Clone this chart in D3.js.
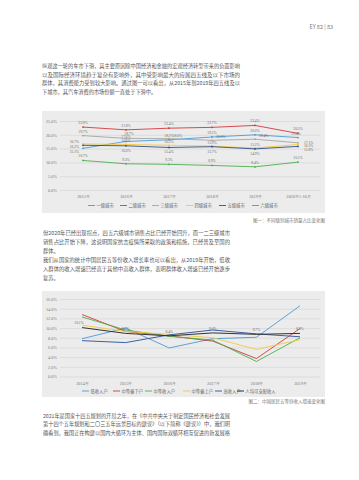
<!DOCTYPE html>
<html><head><meta charset="utf-8">
<script src="https://cdn.jsdelivr.net/npm/d3@7/dist/d3.min.js"></script>
<style>html,body{margin:0;padding:0;background:#fff;}svg{display:block;font-family:"Noto Sans CJK SC","Noto Sans",sans-serif;}</style>
</head><body>
<svg id="c" width="359" height="480"></svg>
<script>
// ---------- data ----------
const cityYears = ["2015年","2016年","2017年","2018年","2019年","2020年1-10月"];
const cityNames = ["一级城市","二级城市","三级城市","四级城市","五级城市","六级城市"];
const tier1 = [15.1, 17.6, 18.2, 19.2, 20.0, 19.0];
const tier2 = [22.8, 21.8, 22.4, 22.7, 23.4, 20.5];
const tier3 = [19.7, 18.7, 18.6, 18.0, 18.4, 17.1];
const tier4 = [16.7, 16.5, 16.2, 15.9, 15.2, 16.5];
const tier5 = [16.2, 16.0, 15.4, 15.7, 14.9, 15.8];
const tier6 = [10.7, 9.5, 9.3, 8.9, 8.4, 10.1];
const cityTicks = [0, 5, 10, 15, 20, 25];

const incYears = ["2014年","2015年","2016年","2017年","2018年","2019年"];
const incNames = ["低收入户","中等偏下户","中等收入户","中等偏上户","高收入户","人均可支配收入"];
const incLow = [7.8, 10.0, 5.9, 7.8, 8.1, 14.6];
const incLowMid = [12.8, 9.3, 8.4, 7.3, 3.7, 9.9];
const incMid = [12.3, 9.6, 8.3, 7.5, 3.1, 8.0];
const incUpMid = [10.6, 9.3, 8.7, 8.0, 5.6, 7.6];
const incHigh = [7.4, 7.0, 8.6, 9.6, 8.8, 8.2];
const incAvg = [10.1, 8.9, 8.4, 9.0, 8.7, 8.9];
const incTicks = [0, 2, 4, 6, 8, 10, 12, 14, 16];

const para1 = [
 "纵观这一轮的车市下滑，其主要原因除中国经济和金融的宏观经济转型带来的负面影响",
 "以及国际经济环境趋于复杂有影响外，其中受影响最大的应属四五线及以下市场的",
 "群体，其消费能力受到较大影响。通过图一可以看出，从2015年到2019年四五线及以",
 "下城市，其汽车消费的市场份额一直处于下滑中。"];
const para2 = [
 "但2020年已经出现拐点，四五六级城市销售占比已经开始回升，而一二三级城市",
 "销售占比开始下降，这说明国家抗击疫情所采取的政策和措施，已经普及至国的",
 "群体。",
 "我们从国家的统计中国居民五等份收入增长率也可以看出，从2019年开始，低收",
 "入群体的收入增速已经高于其他中高收入群体，表明群体收入增速已经开始逐步",
 "复苏。"];
const para3 = [
 "2021年是国家十四五规划的开局之年，在《中共中央关于制定国民经济和社会发展",
 "第十四个五年规划和二〇三五年远景目标的建议》（以下简称《建议》）中，我们明",
 "确看到，我国正在构建以国内大循环为主体、国内国际双循环相互促进的新发展格"];

// ---------- drawing ----------
const svg = d3.select("#c");
svg.append("rect").attr("width",359).attr("height",480).attr("fill","#fff");

svg.append("text").attr("x",333).attr("y",29).attr("text-anchor","end")
  .attr("font-size",5.5).attr("fill","#777").text("EY 82 | 83");

function para(lines, x, y0, lh, fullW){
  const g = svg.append("g");
  lines.forEach((t,i)=>{
    const el = g.append("text").attr("x",x).attr("y",y0+i*lh)
      .attr("font-size",5.2).attr("fill","#555").text(t);
    if (t.length >= 30) el.attr("textLength",fullW).attr("lengthAdjust","spacingAndGlyphs");
  });
}
para(para1, 42, 68, 8.6, 198);
para(para2, 43, 235, 9, 187);
para(para3, 43, 417.5, 8.8, 187);

function chart(opts){
  const g = svg.append("g");
  g.append("rect").attr("x",42).attr("y",opts.top).attr("width",283).attr("height",opts.h).attr("fill","#ececec");
  const x = d3.scalePoint().domain(opts.cats).range(opts.xr);
  const y = d3.scaleLinear().domain(opts.ydom).range(opts.yr);
  const ax = g.append("g").attr("transform","translate(60,0)")
    .call(d3.axisLeft(y).tickValues(opts.ticks).tickSize(-260).tickPadding(3)
      .tickFormat(d=>d.toFixed(1)+"%"));
  ax.select(".domain").remove();
  ax.selectAll("line").attr("stroke","#d2d2d2").attr("stroke-width",0.6);
  ax.selectAll("text").attr("font-size",4.3).attr("fill","#777").attr("font-family","Liberation Serif, serif");
  const bx = g.append("g").attr("transform",`translate(0,${opts.yr[0]})`)
    .call(d3.axisBottom(x).tickSize(0).tickPadding(5));
  bx.select(".domain").remove();
  bx.selectAll("text").attr("font-size",4.3).attr("fill","#777").attr("font-family","Liberation Serif, serif");
  const line = d3.line().x((d,i)=>x(opts.cats[i])).y(d=>y(d));
  opts.series.forEach(s=>{
    g.append("path").attr("d",line(s.v)).attr("fill","none").attr("stroke",s.c).attr("stroke-width",s.w||0.9);
    if (opts.dots) g.selectAll(null).data(s.v).enter().append("circle")
      .attr("cx",(d,i)=>x(opts.cats[i])).attr("cy",d=>y(d)).attr("r",0.9).attr("fill",s.c);
    if (s.lab) s.v.forEach((d,i)=>{
      const p = s.lab(i);
      if (!p) return;
      g.append("text").attr("x",x(opts.cats[i])+p[0]).attr("y",y(d)+p[1])
        .attr("text-anchor",p[2]||"middle").attr("font-size",3.6).attr("fill","#666")
        .attr("font-family","Liberation Serif, serif").text(d.toFixed(1)+"%");
    });
  });
  // legend
  const lg = g.append("g");
  opts.series.forEach((s,i)=>{
    const lx = opts.legX[i];
    lg.append("line").attr("x1",lx).attr("x2",lx+7).attr("y1",opts.legY).attr("y2",opts.legY)
      .attr("stroke",s.c).attr("stroke-width",s.w||0.9);
    lg.append("text").attr("x",lx+8.5).attr("y",opts.legY+1.5).attr("font-size",4.3).attr("fill","#666").text(s.n);
  });
  svg.append("text").attr("x",325).attr("y",opts.capY).attr("text-anchor","end")
    .attr("font-size",4.5).attr("fill","#777").text(opts.cap);
}

const last = cityYears.length-1;
chart({
  top:111, h:102, cats:cityYears, xr:[83,298], ydom:[0,25], yr:[190,121], ticks:cityTicks, dots:true,
  series:[
    {n:cityNames[0], v:tier1, c:"#4a9bd6", lab:i=> i===0?[-4,5,"end"]: i===last?[-2,-3,"middle"]:[0,-3]},
    {n:cityNames[1], v:tier2, c:"#d23a3a", lab:i=>[0,-3]},
    {n:cityNames[2], v:tier3, c:"#a5a5a5", lab:i=> i===0?[0,-3]: i===last?[6,1.5,"start"]: i===1?[3,-3]:[4,-2,"start"]},
    {n:cityNames[3], v:tier4, c:"#f5c842", lab:i=> i===0?[-4,-0.5,"end"]: i===last?[6,2.5,"start"]:[0,-2.5]},
    {n:cityNames[4], v:tier5, c:"#2f4e8c", lab:i=> i===0?[-4,2.8,"end"]: i===last?[6,5,"start"]:[0,6]},
    {n:cityNames[5], v:tier6, c:"#4caf50", lab:i=>[0,-3]}
  ],
  legX:[88,120,152,186,219,252], legY:205.5,
  cap:"图一：不同级别城市销量占比变化图", capY:222
});

chart({
  top:291, h:106, cats:incYears, xr:[82,300], ydom:[0,16], yr:[376.5,299], ticks:incTicks, dots:false,
  series:[
    {n:incNames[0], v:incLow, c:"#4a9bd6"},
    {n:incNames[1], v:incLowMid, c:"#d23a3a"},
    {n:incNames[2], v:incMid, c:"#4caf50"},
    {n:incNames[3], v:incUpMid, c:"#f5c842"},
    {n:incNames[4], v:incHigh, c:"#3b5fa8", w:1},
    {n:incNames[5], v:incAvg, c:"#333", w:1, lab:i=> i===0?[-3,-4]:[0,-3]}
  ],
  legX:[82,113,145,183,215,237], legY:391,
  cap:"图二：中国居民五等份收入增速变化图", capY:403
});
</script>
</body></html>
